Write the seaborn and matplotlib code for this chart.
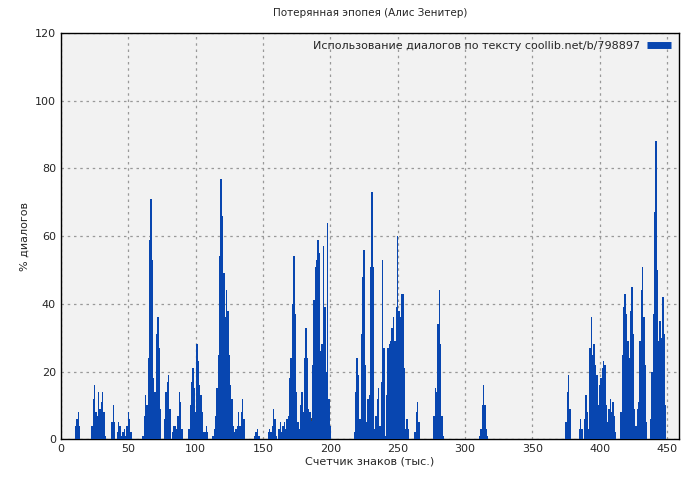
import matplotlib
matplotlib.use("Agg")
import matplotlib.pyplot as plt
from matplotlib.lines import Line2D
import seaborn as sns
import pandas as pd

seg_starts = [11, 23, 38, 42, 61, 70, 77, 83, 95, 113, 144, 154, 169, 177, 186, 218,
              233, 237, 242, 256, 263, 277, 311, 375, 385, 389, 401, 416, 438]
seg_values = [
    [4, 6, 8, 4],
    [4, 12, 16, 8, 7, 14, 9, 11, 14, 8, 1],
    [5, 10, 5],
    [2, 5, 4, 1, 2, 3, 1, 4, 8, 6, 2],
    [1, 7, 13, 10, 24, 59, 71, 53, 18],
    [14, 31, 36, 27, 9],
    [6, 14, 17, 19, 9],
    [2, 4, 4, 3, 7, 14, 11, 3],
    [3, 10, 17, 21, 15, 8, 28, 23, 16, 13, 8, 2, 2, 4, 2],
    [1, 3, 7, 15, 25, 54, 77, 66, 49, 36, 44, 38, 25, 16, 12, 4, 2, 3, 4, 8, 4, 8, 12, 6],
    [1, 2, 3, 1],
    [2, 3, 2, 4, 9, 6, 1, 0, 3, 5, 2, 4, 5, 3, 6],
    [7, 18, 24, 40, 54, 37, 14, 5],
    [3, 10, 14, 8, 24, 33, 24, 9, 8, 5],
    [6, 22, 41, 51, 53, 59, 55, 26, 28, 57, 39, 20, 64, 12, 4],
    [2, 14, 24, 19, 6, 31, 48, 56, 22, 5, 12, 13, 51, 73, 51],
    [3, 7, 12, 15],
    [4, 17, 53, 27, 1],
    [13, 27, 28, 29, 33, 36, 29, 39, 60, 38, 36, 43, 43, 21],
    [3, 6, 3],
    [2, 8, 11, 5],
    [7, 15, 14, 34, 44, 28, 7, 1],
    [1, 3, 10, 16, 10, 3, 1],
    [5, 14, 19, 9],
    [3, 6, 3],
    [6, 13, 8, 3, 27, 36, 25, 28, 22, 19, 10, 16],
    [18, 21, 23, 22, 10, 5, 9, 12, 8, 11, 7, 2],
    [8, 25, 39, 43, 37, 29, 24, 38, 45, 31, 9, 4, 9, 11, 29, 44, 51, 36, 22, 5],
    [6, 20, 37, 67, 88, 50, 29, 35, 30, 42, 31, 10],
]

title = "Потерянная эпопея (Алис Зенитер)"
legend_label = "Использование диалогов по тексту coollib.net/b/798897"
xlabel = "Счетчик знаков (тыс.)"
ylabel = "% диалогов"
color = "#0846B0"

xs, vs = [], []
for s, vals in zip(seg_starts, seg_values):
    for i, v in enumerate(vals):
        xs.append(s + i)
        vs.append(v)
df = pd.DataFrame({"x": xs, "v": vs})

sns.set_style("white")
plt.rcParams['font.family'] = ['DejaVu Sans']
fig = plt.figure(figsize=(7, 4.8), dpi=100)
ax = fig.add_axes([0.087, 0.085, 0.883, 0.846])
ax.set_facecolor("#f2f2f2")
sns.barplot(data=df, x="x", y="v", native_scale=True, width=1.0, color=color,
            saturation=1, linewidth=0, edgecolor="none", ax=ax, zorder=3)
ax.set_xlim(0, 459)
ax.set_ylim(0, 120)
ax.set_xticks(range(0, 451, 50))
ax.set_yticks(range(0, 121, 20))
ax.grid(True, color="#999999", linestyle=(0, (2, 3)), linewidth=0.9, zorder=0)
ax.set_axisbelow(True)
for sp in ax.spines.values():
    sp.set_color("black")
    sp.set_linewidth(1)
ax.tick_params(labelsize=8, direction="in", length=4, color="black")
ax.set_xlabel(xlabel, fontsize=8, labelpad=2)
ax.set_ylabel(ylabel, fontsize=8)
ax.set_title(title, fontsize=7.5, pad=12)
h = Line2D([0], [0], color=color, linewidth=5, solid_capstyle="butt")
ax.legend([h], [legend_label], loc="upper right", frameon=False, fontsize=8,
          handlelength=2.2, borderaxespad=0.3, markerfirst=False, handletextpad=0.6)
fig.savefig("out.png", dpi=100)
